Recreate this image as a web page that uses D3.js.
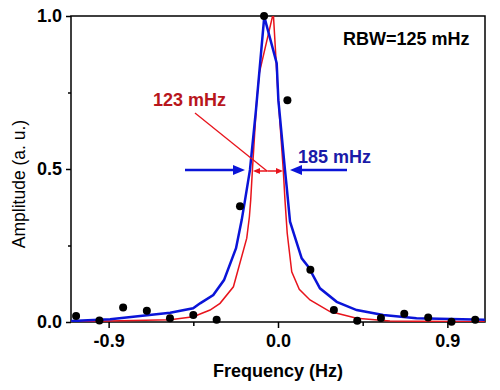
<!DOCTYPE html>
<meta charset="utf-8">
<style>
    body {
        margin: 0;
        background: #fff;
        font-family: "Liberation Sans", Arial, sans-serif;
    }

    .axis path,
    .axis line {
        stroke: #000;
        stroke-width: 1.5px;
    }

    .axis text {
        font-size: 18px;
        font-weight: bold;
        fill: #000;
    }
</style>
<svg width="500" height="390"></svg>
<script src="https://d3js.org/d3.v7.min.js"></script>
<script>
    var svg = d3.select("svg");

    // measured points (black dots)
    var dataFreq = [-1.073, -0.949, -0.823, -0.697, -0.574, -0.450, -0.326, -0.202, -0.074,
        0.050, 0.172, 0.297, 0.421, 0.547, 0.671, 0.798, 0.922, 1.048];
    var dataAmp = [0.020, 0.005, 0.047, 0.037, 0.012, 0.023, 0.007, 0.378, 1.000,
        0.725, 0.171, 0.039, 0.004, 0.013, 0.027, 0.015, 0.001, 0.007];

    // blue fit (185 mHz)
    var blueFreq = [-1.099, -0.892, -0.573, -0.451, -0.414, -0.344, -0.287, -0.223, -0.193, -0.175,
        -0.149, -0.117, -0.073, -0.007, 0.002, 0.037, 0.046, 0.064, 0.126, 0.161, 0.223, 0.312,
        0.418, 0.559, 0.736, 1.099];
    var blueAmp = [0.003, 0.009, 0.030, 0.045, 0.061, 0.088, 0.137, 0.241, 0.333, 0.399,
        0.497, 0.693, 0.998, 0.846, 0.725, 0.497, 0.442, 0.328, 0.208, 0.181, 0.110, 0.066,
        0.039, 0.023, 0.012, 0.007];

    // red fit (123 mHz)
    var redFreq = [-1.099, -0.573, -0.450, -0.361, -0.308, -0.237, -0.166, -0.152, -0.145, -0.136,
        -0.113, -0.099, -0.025, 0.002, 0.028, 0.037, 0.049, 0.073, 0.113, 0.170, 0.276, 0.418,
        0.595, 1.099];
    var redAmp = [0.001, 0.007, 0.017, 0.039, 0.061, 0.115, 0.274, 0.344, 0.399, 0.497,
        0.725, 0.814, 1.010, 0.725, 0.497, 0.399, 0.290, 0.164, 0.107, 0.072, 0.034, 0.012,
        0.003, 0.001];

    var xTicks = [-0.9, 0.0, 0.9];
    var xMinor = [-0.45, 0.45];
    var yTicks = [0.0, 0.5, 1.0];
    var yMinor = [0.25, 0.75];

    var pL = 71, pR = 485, pT = 16, pB = 322;

    var x = d3.scaleLinear().domain([-1.1, 1.1]).range([pL, pR]);
    var y = d3.scaleLinear().domain([0, 1]).range([pB, pT]);

    var fmt = function (d) { return d3.format(".1f")(d).replace("\u2212", "-"); };

    svg.append("defs").append("clipPath").attr("id", "clip")
        .append("rect")
        .attr("x", pL).attr("y", pT)
        .attr("width", pR - pL).attr("height", pB - pT);

    // frame
    svg.append("rect")
        .attr("x", pL).attr("y", pT)
        .attr("width", pR - pL).attr("height", pB - pT)
        .attr("fill", "none")
        .attr("stroke", "#000")
        .attr("stroke-width", 1.5);

    // axes
    svg.append("g").attr("class", "axis")
        .attr("transform", "translate(0," + pB + ")")
        .call(d3.axisBottom(x).tickValues(xTicks).tickFormat(fmt).tickSize(6).tickPadding(6))
        .call(function (g) { g.select(".domain").remove(); });
    svg.append("g").attr("class", "axis")
        .attr("transform", "translate(0," + pB + ")")
        .call(d3.axisBottom(x).tickValues(xMinor).tickFormat("").tickSize(4))
        .call(function (g) { g.select(".domain").remove(); });

    svg.append("g").attr("class", "axis")
        .attr("transform", "translate(" + pL + ",0)")
        .call(d3.axisLeft(y).tickValues(yTicks).tickFormat(fmt).tickSize(5).tickPadding(4))
        .call(function (g) { g.select(".domain").remove(); });
    svg.append("g").attr("class", "axis")
        .attr("transform", "translate(" + pL + ",0)")
        .call(d3.axisLeft(y).tickValues(yMinor).tickFormat("").tickSize(3))
        .call(function (g) { g.select(".domain").remove(); });

    // axis titles
    svg.append("text")
        .attr("x", 278).attr("y", 377)
        .attr("text-anchor", "middle")
        .style("font-size", "18px").style("font-weight", "bold")
        .text("Frequency (Hz)");

    svg.append("text")
        .attr("transform", "translate(25,184) rotate(-90)")
        .attr("text-anchor", "middle")
        .style("font-size", "17.5px")
        .text("Amplitude (a. u.)");

    // curves
    var line = d3.line()
        .x(function (d) { return x(d[0]); })
        .y(function (d) { return y(d[1]); });

    var plot = svg.append("g").attr("clip-path", "url(#clip)");

    plot.append("path")
        .datum(d3.zip(redFreq, redAmp))
        .attr("d", line)
        .attr("fill", "none")
        .attr("stroke", "#e8141c")
        .attr("stroke-width", 1.5);

    plot.append("path")
        .datum(d3.zip(blueFreq, blueAmp))
        .attr("d", line)
        .attr("fill", "none")
        .attr("stroke", "#0a14d8")
        .attr("stroke-width", 2.5);

    // dots drawn unclipped so the edge ones stay round
    svg.append("g").selectAll("circle")
        .data(d3.zip(dataFreq, dataAmp))
        .enter().append("circle")
        .attr("cx", function (d) { return x(d[0]); })
        .attr("cy", function (d) { return y(d[1]); })
        .attr("r", 4)
        .attr("fill", "#000");

    // annotations
    function arrow(x1, x2, yv, color, w, head, hw) {
        var dir = x2 > x1 ? 1 : -1;
        svg.append("line")
            .attr("x1", x1).attr("y1", yv)
            .attr("x2", x2 - dir * head).attr("y2", yv)
            .attr("stroke", color).attr("stroke-width", w);
        svg.append("path")
            .attr("d", "M" + x2 + "," + yv + "L" + (x2 - dir * head) + "," + (yv - hw) +
                "L" + (x2 - dir * head) + "," + (yv + hw) + "Z")
            .attr("fill", color);
    }

    var yHalf = y(0.5) + 1;
    arrow(185, 245, yHalf, "#0a14d8", 2.5, 12, 5);
    arrow(347, 290, yHalf, "#0a14d8", 2.5, 12, 5);

    var yRed = y(0.5) + 2;
    arrow(267.5, 253, yRed, "#e8141c", 1.5, 7, 3);
    arrow(267.5, 283, yRed, "#e8141c", 1.5, 7, 3);

    svg.append("line")
        .attr("x1", 195).attr("y1", 113)
        .attr("x2", 267).attr("y2", yRed)
        .attr("stroke", "#e8141c").attr("stroke-width", 1.3);

    svg.append("text")
        .attr("x", 153).attr("y", 106)
        .style("font-size", "18px").style("font-weight", "bold")
        .attr("fill", "#b8161c")
        .text("123 mHz");

    svg.append("text")
        .attr("x", 298).attr("y", 163)
        .style("font-size", "18px").style("font-weight", "bold")
        .attr("fill", "#1a1aa8")
        .text("185 mHz");

    svg.append("text")
        .attr("x", 343).attr("y", 45)
        .style("font-size", "18px").style("font-weight", "bold")
        .attr("fill", "#000")
        .text("RBW=125 mHz");
</script>
